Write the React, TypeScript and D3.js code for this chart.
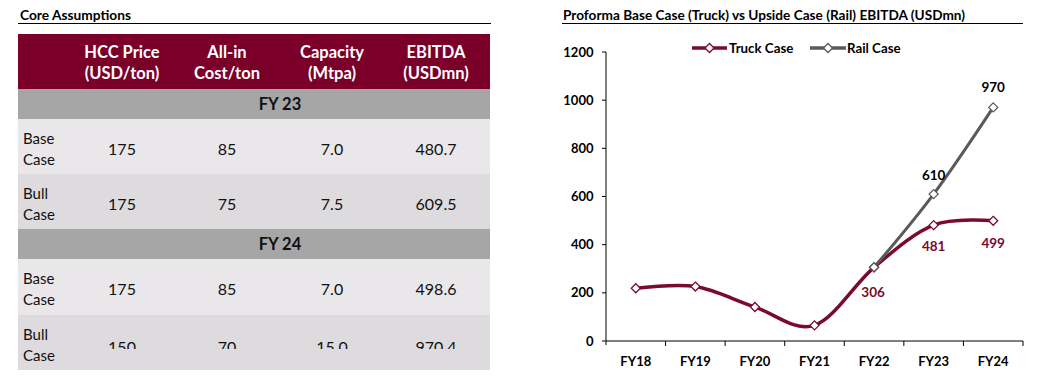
import React from "react";
import * as d3 from "d3";

const years = ["FY18", "FY19", "FY20", "FY21", "FY22", "FY23", "FY24"];
const truckValues = [219, 226, 141, 65, 306, 481, 499];
const railYears = ["FY22", "FY23", "FY24"];
const railValues = [306, 610, 970];
const yTicks = [0, 200, 400, 600, 800, 1000, 1200];

const tableHeaders = [["HCC Price", "(USD/ton)"], ["All-in", "Cost/ton"], ["Capacity", "(Mtpa)"], ["EBITDA", "(USDmn)"]];
const fy23Rows = [
  { label: ["Base", "Case"], vals: ["175", "85", "7.0", "480.7"] },
  { label: ["Bull", "Case"], vals: ["175", "75", "7.5", "609.5"] },
];
const fy24Rows = [
  { label: ["Base", "Case"], vals: ["175", "85", "7.0", "498.6"] },
  { label: ["Bull", "Case"], vals: ["150", "70", "15.0", "970.4"] },
];

const MAROON = "#7a0a2e";
const GRAY = "#5a5a5a";
const FONT = "Lato, 'Open Sans', sans-serif";

export default function App() {
  const W = 1053, H = 381;
  const x = d3.scaleBand<string>().domain(years).range([606, 1023]);
  const y = d3.scaleLinear().domain([0, 1200]).range([341, 52]);
  const cx = (k: string) => (x(k) as number) + x.bandwidth() / 2;
  const line = d3.line<[number, number]>().x(d => d[0]).y(d => d[1]).curve(d3.curveCatmullRom.alpha(0));
  const truckPts: [number, number][] = years.map((k, i) => [cx(k), y(truckValues[i])]);
  const railPts: [number, number][] = railYears.map((k, i) => [cx(k), y(railValues[i])]);
  const diamond = (px: number, py: number, c: string, key: string) => (
    <path key={key} d={`M${px},${py - 4.5}L${px + 4.5},${py}L${px},${py + 4.5}L${px - 4.5},${py}Z`} fill="#fff" stroke={c} strokeWidth={1.3} />
  );

  const tx0 = 18, tx1 = 490;
  const colX = [122, 227, 332, 436];
  const rowsLayout = [
    { type: "fy", text: "FY 23", y0: 89, y1: 119 },
    { type: "row", row: fy23Rows[0], y0: 119, y1: 174, fill: "#e9e7ea", dy: 8 },
    { type: "row", row: fy23Rows[1], y0: 174, y1: 229, fill: "#dddbde", dy: 8 },
    { type: "fy", text: "FY 24", y0: 229, y1: 259 },
    { type: "row", row: fy24Rows[0], y0: 259, y1: 315, fill: "#e9e7ea", dy: 8 },
    { type: "row", row: fy24Rows[1], y0: 315, y1: 370, fill: "#dddbde", dy: 10, clip: true },
  ];

  return (
    <svg width={W} height={H} style={{ position: "absolute", left: 0, top: 0, background: "#fff" }} fontFamily={FONT}>
      <defs>
        <clipPath id="lastRowClip">
          <rect x={0} y={0} width={W} height={349} />
        </clipPath>
      </defs>
      {/* Left table */}
      <text x={20} y={20} fontSize={13} fontWeight="bold" fill="#000" textLength={111} lengthAdjust="spacingAndGlyphs">Core Assumptions</text>
      <line x1={18} x2={491} y1={23.5} y2={23.5} stroke="#000" strokeWidth={1} />
      <rect x={tx0} y={34} width={tx1 - tx0} height={55} fill="#7b0029" />
      {tableHeaders.map((h, i) => (
        <g key={i} fill="#fff" fontWeight="bold" fontSize={16.5} textAnchor="middle">
          <text x={colX[i]} y={58}>{h[0]}</text>
          <text x={colX[i]} y={79}>{h[1]}</text>
        </g>
      ))}
      {rowsLayout.map((r, i) => {
        if (r.type === "fy") {
          return (
            <g key={i}>
              <rect x={tx0} y={r.y0} width={tx1 - tx0} height={r.y1 - r.y0} fill="#a6a6a6" />
              <text x={280} y={(r.y0 + r.y1) / 2 + 6} textAnchor="middle" fontWeight="bold" fontSize={16.5} fill="#111">{r.text}</text>
            </g>
          );
        }
        const row = r.row!;
        const mid = (r.y0 + r.y1) / 2;
        return (
          <g key={i}>
            <rect x={tx0} y={r.y0} width={tx1 - tx0} height={r.y1 - r.y0} fill={r.fill} />
            <text x={23} y={mid - 3} fontSize={15} fill="#111">{row.label[0]}</text>
            <text x={23} y={mid + 18} fontSize={15} fill="#111">{row.label[1]}</text>
            <g clipPath={r.clip ? "url(#lastRowClip)" : undefined}>
              {row.vals.map((v, j) => (
                <text key={j} x={colX[j]} y={mid + (r.dy as number)} textAnchor="middle" fontSize={16} fill="#111">{v}</text>
              ))}
            </g>
          </g>
        );
      })}

      {/* Right chart */}
      <text x={563} y={20} fontSize={13} fontWeight="bold" fill="#000" textLength={402} lengthAdjust="spacingAndGlyphs">Proforma Base Case (Truck) vs Upside Case (Rail) EBITDA (USDmn)</text>
      <line x1={562} x2={1023} y1={23.5} y2={23.5} stroke="#000" strokeWidth={1} />

      {/* legend */}
      <line x1={692} x2={727} y1={48} y2={48} stroke={MAROON} strokeWidth={3.5} />
      {diamond(709.5, 48, MAROON, "lg1")}
      <text x={729} y={52.5} fontSize={13.3} fontWeight="bold" fill="#000">Truck Case</text>
      <line x1={810} x2={846} y1={48} y2={48} stroke={GRAY} strokeWidth={3.5} />
      {diamond(828, 48, GRAY, "lg2")}
      <text x={847} y={52.5} fontSize={13.3} fontWeight="bold" fill="#000">Rail Case</text>

      {/* y axis */}
      <line x1={606} x2={606} y1={52} y2={345} stroke="#000" strokeWidth={1} />
      {yTicks.map(t => (
        <g key={t}>
          <line x1={602} x2={606} y1={y(t)} y2={y(t)} stroke="#000" />
          <text x={593.5} y={y(t) + 4.5} textAnchor="end" fontSize={13} fontWeight="bold" fill="#000">{t}</text>
        </g>
      ))}
      {/* x axis */}
      <line x1={606} x2={1023} y1={341} y2={341} stroke="#000" strokeWidth={1} />
      {years.map((k) => (
        <g key={k}>
          <line x1={(x(k) as number) + x.bandwidth()} x2={(x(k) as number) + x.bandwidth()} y1={341} y2={346} stroke="#000" />
          <text x={cx(k)} y={366} textAnchor="middle" fontSize={13} fontWeight="bold" fill="#000">{k}</text>
        </g>
      ))}

      {/* series */}
      <path d={line(truckPts) || ""} fill="none" stroke={MAROON} strokeWidth={3.5} />
      <path d={line(railPts) || ""} fill="none" stroke={GRAY} strokeWidth={3} />
      {truckPts.map((p, i) => diamond(p[0], p[1], MAROON, "t" + i))}
      {railPts.map((p, i) => diamond(p[0], p[1], GRAY, "r" + i))}

      {/* data labels */}
      <text x={cx("FY22") - 1} y={y(306) + 30} textAnchor="middle" fontSize={13.5} fontWeight="bold" fill={MAROON}>306</text>
      <text x={cx("FY23")} y={y(481) + 26} textAnchor="middle" fontSize={13.5} fontWeight="bold" fill={MAROON}>481</text>
      <text x={cx("FY24")} y={y(499) + 27} textAnchor="middle" fontSize={13.5} fontWeight="bold" fill={MAROON}>499</text>
      <text x={cx("FY23")} y={y(610) - 14} textAnchor="middle" fontSize={13.5} fontWeight="bold" fill="#000">610</text>
      <text x={cx("FY24")} y={y(970) - 15} textAnchor="middle" fontSize={13.5} fontWeight="bold" fill="#000">970</text>
    </svg>
  );
}
